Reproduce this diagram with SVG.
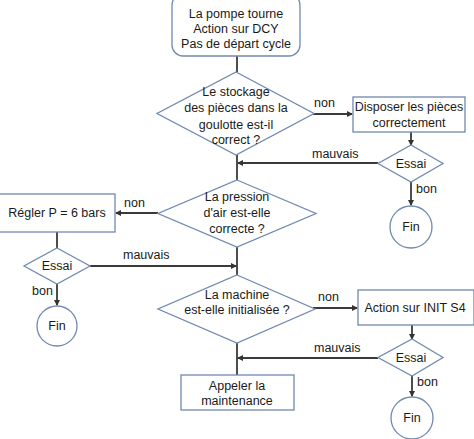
<svg xmlns="http://www.w3.org/2000/svg" width="474" height="439" viewBox="0 0 474 439">
<defs>
<marker id="ah" markerWidth="6" markerHeight="6" refX="5" refY="3" orient="auto" markerUnits="userSpaceOnUse">
<path d="M0,0 L6,3 L0,6 Z" fill="#333"/>
</marker>
<style>
.s{fill:#fff;stroke:#7089b0;stroke-width:1.3}
.c{fill:none;stroke:#3a3a3a;stroke-width:1.8}
.t{font-family:"Liberation Sans",Arial,sans-serif;font-size:12.5px;fill:#1a1a1a;text-anchor:middle}
.l{font-family:"Liberation Sans",Arial,sans-serif;font-size:12.5px;fill:#1a1a1a}
</style>
</defs>
<rect width="474" height="439" fill="#fff"/>
<g id="connectors">
<line class="c" x1="237" y1="56" x2="237" y2="72"/>
<line class="c" x1="313" y1="114" x2="352" y2="114" marker-end="url(#ah)"/>
<line class="c" x1="411" y1="132" x2="411" y2="145" marker-end="url(#ah)"/>
<line class="c" x1="378" y1="163" x2="238" y2="163" marker-end="url(#ah)"/>
<line class="c" x1="411" y1="182" x2="411" y2="205" marker-end="url(#ah)"/>
<line class="c" x1="237" y1="155" x2="237" y2="180"/>
<line class="c" x1="158" y1="213" x2="116" y2="213" marker-end="url(#ah)"/>
<line class="c" x1="57" y1="232" x2="57" y2="248"/>
<line class="c" x1="90" y1="266" x2="236" y2="266" marker-end="url(#ah)"/>
<line class="c" x1="57" y1="284" x2="57" y2="305" marker-end="url(#ah)"/>
<line class="c" x1="237" y1="247" x2="237" y2="275"/>
<line class="c" x1="313" y1="308" x2="357" y2="308" marker-end="url(#ah)"/>
<line class="c" x1="412" y1="325" x2="412" y2="339" marker-end="url(#ah)"/>
<line class="c" x1="378" y1="358" x2="238" y2="358" marker-end="url(#ah)"/>
<line class="c" x1="412" y1="375" x2="412" y2="396" marker-end="url(#ah)"/>
<line class="c" x1="237" y1="343" x2="237" y2="375"/>
<text class="l" x="314" y="107">non</text>
<text class="l" x="312" y="158">mauvais</text>
<text class="l" x="416" y="193">bon</text>
<text class="l" x="124" y="207">non</text>
<text class="l" x="123" y="259">mauvais</text>
<text class="l" x="32" y="295">bon</text>
<text class="l" x="318" y="301">non</text>
<text class="l" x="314" y="352">mauvais</text>
<text class="l" x="417" y="386">bon</text>
</g>
<g id="start">
<rect class="s" x="172" y="-6" width="128" height="62" rx="11"/>
<text class="t" x="236" y="18">La pompe tourne</text>
<text class="t" x="236" y="33">Action sur DCY</text>
<text class="t" x="236" y="48">Pas de départ cycle</text>
</g>
<g id="d1">
<polygon class="s" points="236,72 314,113.5 236,155 157,113.5"/>
<text class="t" x="236" y="96">Le stockage</text>
<text class="t" x="236" y="112">des pièces dans la</text>
<text class="t" x="236" y="129">goulotte est-il</text>
<text class="t" x="236" y="144">correct ?</text>
</g>
<g id="b1">
<rect class="s" x="353" y="97" width="112" height="35"/>
<text class="t" x="409" y="111">Disposer les pièces</text>
<text class="t" x="409" y="127">correctement</text>
</g>
<g id="e1">
<polygon class="s" points="411,145 443,163.5 411,182 378,163.5"/>
<text class="t" x="411" y="168">Essai</text>
</g>
<g id="f1">
<circle class="s" cx="411" cy="227" r="21"/>
<text class="t" x="411" y="231">Fin</text>
</g>
<g id="d2">
<polygon class="s" points="237,180 316,213.5 237,247 158,213.5"/>
<text class="t" x="237" y="201">La pression</text>
<text class="t" x="237" y="217">d'air est-elle</text>
<text class="t" x="237" y="233">correcte ?</text>
</g>
<g id="b2">
<rect class="s" x="-1" y="194" width="116" height="38"/>
<text class="t" x="57" y="217">Régler P = 6 bars</text>
</g>
<g id="e2">
<polygon class="s" points="57,248 90,266 57,284 24,266"/>
<text class="t" x="57" y="270">Essai</text>
</g>
<g id="f2">
<circle class="s" cx="57" cy="326" r="20"/>
<text class="t" x="57" y="330">Fin</text>
</g>
<g id="d3">
<polygon class="s" points="237,275 315,309 237,343 158,309"/>
<text class="t" x="237" y="299">La machine</text>
<text class="t" x="237" y="314">est-elle initialisée ?</text>
</g>
<g id="b3">
<rect class="s" x="358" y="290" width="116" height="35"/>
<text class="t" x="415" y="312">Action sur INIT S4</text>
</g>
<g id="e3">
<polygon class="s" points="412,339 443,357.5 412,376 378,357.5"/>
<text class="t" x="411" y="362">Essai</text>
</g>
<g id="f3">
<circle class="s" cx="412" cy="418" r="21"/>
<text class="t" x="412" y="422">Fin</text>
</g>
<g id="b4">
<rect class="s" x="181" y="375" width="113" height="35"/>
<text class="t" x="237" y="390">Appeler la</text>
<text class="t" x="237" y="405">maintenance</text>
</g>
</svg>
